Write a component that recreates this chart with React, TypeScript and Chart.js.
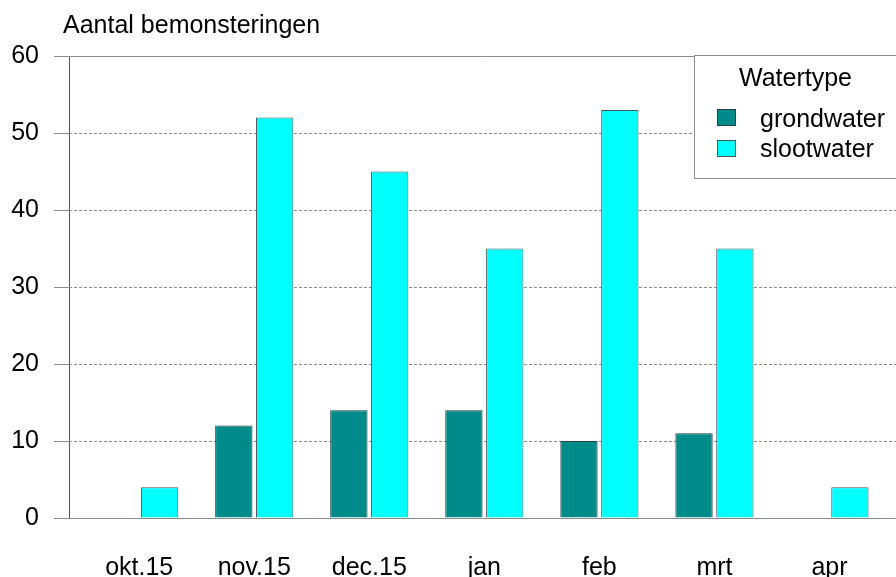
import React, { useEffect, useRef } from "react";
import { Chart, registerables } from "chart.js";

Chart.register(...registerables);

const categories = ["okt.15", "nov.15", "dec.15", "jan", "feb", "mrt", "apr"];
const grondwater = [0, 12, 14, 14, 10, 11, 0];
const slootwater = [4, 52, 45, 35, 53, 35, 4];
const yTicks = [0, 10, 20, 30, 40, 50, 60];
const yTitle = "Aantal bemonsteringen";
const legendTitle = "Watertype";
const seriesNames = ["grondwater", "slootwater"];

const FONT = "'Liberation Sans', Arial, sans-serif";
const GRID = "#8c8c8c";

const gridPlugin = {
  id: "customGrid",
  beforeDatasetsDraw(chart: any) {
    const { ctx, chartArea } = chart;
    const y = chart.scales.y;
    ctx.save();
    ctx.lineWidth = 1;
    ctx.strokeStyle = GRID;
    yTicks.forEach((v) => {
      const py = Math.round(y.getPixelForValue(v)) + 0.5;
      const solid = v === yTicks[0] || v === yTicks[yTicks.length - 1];
      ctx.setLineDash(solid ? [] : [3, 2]);
      ctx.beginPath();
      ctx.moveTo(chartArea.left, py);
      ctx.lineTo(chartArea.right, py);
      ctx.stroke();
    });
    ctx.restore();
  },
  afterDraw(chart: any) {
    const { ctx } = chart;
    ctx.save();
    // axis title
    ctx.fillStyle = "#000";
    ctx.font = `25px ${FONT}`;
    ctx.textAlign = "left";
    ctx.textBaseline = "alphabetic";
    ctx.fillText(yTitle, 63, 33);

    // legend box
    ctx.fillStyle = "#fff";
    ctx.strokeStyle = GRID;
    ctx.lineWidth = 1;
    ctx.fillRect(694.5, 55.5, 220, 123);
    ctx.strokeRect(694.5, 55.5, 220, 123);
    ctx.fillStyle = "#000";
    ctx.fillText(legendTitle, 739, 86);
    const ds = chart.data.datasets;
    const rows = [109, 140];
    const baselines = [127, 157];
    ds.forEach((d: any, i: number) => {
      ctx.fillStyle = d.backgroundColor;
      ctx.fillRect(717.5, rows[i] + 0.5, 18, 16);
      ctx.strokeStyle = d.borderColor;
      ctx.strokeRect(717.5, rows[i] + 0.5, 18, 16);
      ctx.fillStyle = "#000";
      ctx.fillText(seriesNames[i], 760, baselines[i]);
    });
    ctx.restore();
  },
};

export default function App() {
  const ref = useRef<HTMLCanvasElement>(null);
  useEffect(() => {
    if (!ref.current) return;
    const chart = new Chart(ref.current, {
      type: "bar",
      data: {
        datasets: [
          {
            label: seriesNames[0],
            data: grondwater.map((v, i) => ({ x: i, y: v })),
            backgroundColor: "#008b8b",
            borderColor: "#2a3f3f",
            borderWidth: 1,
            categoryPercentage: 0.71,
            barPercentage: 0.914,
          },
          {
            label: seriesNames[1],
            data: slootwater.map((v, i) => ({ x: i, y: v })),
            backgroundColor: "#00ffff",
            borderColor: "#4a5a5a",
            borderWidth: 1,
            categoryPercentage: 0.71,
            barPercentage: 0.914,
          },
        ],
      },
      options: {
        animation: false,
        responsive: false,
        devicePixelRatio: 1,
        layout: { padding: { top: 56, left: 0, right: 0, bottom: 0 } },
        plugins: {
          legend: { display: false },
          tooltip: { enabled: false },
          title: { display: false },
        },
        scales: {
          x: {
            type: "linear",
            offset: false,
            min: -0.61,
            max: 6.578,
            grid: { display: false, offset: false },
            border: { display: false },
            afterBuildTicks: (axis: any) => {
              axis.ticks = categories.map((_, i) => ({ value: i }));
            },
            afterFit: (axis: any) => {
              axis.height = 59;
            },
            ticks: {
              autoSkip: false,
              maxRotation: 0,
              padding: 27,
              color: "#000",
              font: { family: FONT, size: 25 },
              callback: (v: any) => categories[v] ?? "",
            },
          },
          y: {
            min: 0,
            max: 60,
            afterBuildTicks: (axis: any) => {
              axis.ticks = yTicks.map((v) => ({ value: v }));
            },
            afterFit: (axis: any) => {
              axis.width = 69;
            },
            grid: {
              display: true,
              drawOnChartArea: false,
              drawTicks: true,
              tickLength: 15,
              tickColor: GRID,
              color: GRID,
            },
            border: { display: true, color: "#555", width: 1 },
            ticks: {
              padding: 15,
              color: "#000",
              font: { family: FONT, size: 25 },
            },
          },
        },
      },
      plugins: [gridPlugin],
    });
    return () => chart.destroy();
  }, []);
  return (
    <div style={{ position: "fixed", left: 0, top: 0, width: 896, height: 577, background: "#fff" }}>
      <canvas ref={ref} width={896} height={577} style={{ display: "block" }} />
    </div>
  );
}
